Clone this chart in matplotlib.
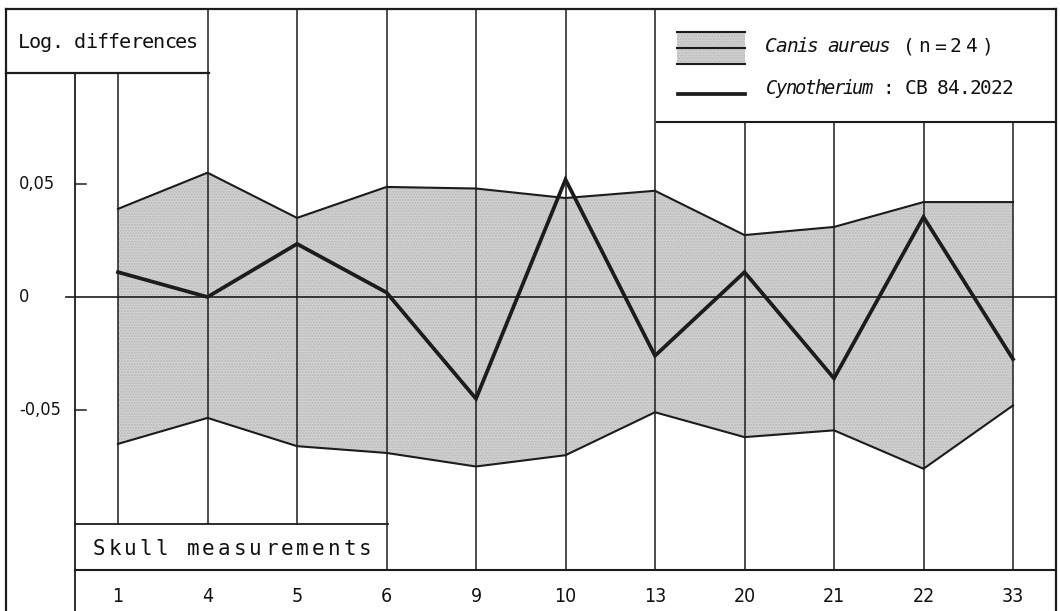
import matplotlib
matplotlib.use("Agg")
import matplotlib.pyplot as plt
from matplotlib.transforms import blended_transform_factory
from matplotlib.patches import Rectangle

# ---------------- data ----------------
categories = ['1', '4', '5', '6', '9', '10', '13', '20', '21', '22', '33']
canis_upper = [0.039, 0.055, 0.035, 0.0487, 0.048, 0.0438, 0.047, 0.0274, 0.031, 0.042, 0.042]
canis_lower = [-0.065, -0.0535, -0.066, -0.069, -0.075, -0.070, -0.051, -0.062, -0.059, -0.076, -0.048]
cynotherium = [0.011, 0.0, 0.0235, 0.002, -0.045, 0.052, -0.026, 0.011, -0.036, 0.0354, -0.0275]
ytick_values = [0.05, 0.0, -0.05]
ytick_labels = ['0,05', '0', '-0,05']

# ---------------- style ----------------
W, H = 1060, 611
INK = '#1c1c1c'
TXT = '#111111'
FILL = '#d2d2d2'
FONT = 'DejaVu Sans'
MONO = 'DejaVu Sans Mono'

fig = plt.figure(figsize=(W / 100, H / 100), dpi=100)
fig.patch.set_facecolor('white')

# pixel-unit helper axes (y downwards) used only for layout
deco = fig.add_axes([0, 0, 1, 1])
deco.set_xlim(0, W)
deco.set_ylim(H, 0)
deco.axis('off')

# data axes
ax = fig.add_axes([0, 0, 1, 1])
x0_px, dx_px = 118.0, 89.5          # pixel position of first category, spacing
y0_px, dy_px = 297.0, 113.0 / 0.05  # pixel position of zero, px per unit
ax.set_xlim((0 - x0_px) / dx_px, (W - x0_px) / dx_px)
ax.set_ylim((y0_px - H) / dy_px, y0_px / dy_px)
ax.axis('off')
ax.patch.set_alpha(0)

xs = list(range(len(categories)))
x_data_y_px = blended_transform_factory(ax.transData, deco.transData)
x_px_y_data = blended_transform_factory(deco.transData, ax.transData)

# band of Canis aureus
band = ax.fill_between(xs, canis_lower, canis_upper, facecolor=FILL,
                       hatch='......', zorder=1)
band.set_edgecolor('#b8b8b8')
band.set_linewidth(0)
ax.plot(xs, canis_upper, color=INK, lw=1.5, zorder=3, solid_joinstyle='miter')
ax.plot(xs, canis_lower, color=INK, lw=1.5, zorder=3, solid_joinstyle='miter')

# column lines (tops/bottoms in px, depend on the boxes)
col_top = [73, 9, 9, 9, 9, 9, 9, 122, 122, 122, 122]
col_bot = [524, 524, 524, 570, 570, 570, 570, 570, 570, 570, 570]
for x, t, b in zip(xs, col_top, col_bot):
    ax.plot([x, x], [t, b], color=INK, lw=1.1, transform=x_data_y_px, zorder=2)

# zero line and ticks
ax.plot([66, 1056], [0, 0], color=INK, lw=1.2, transform=x_px_y_data, zorder=2)
for v in ytick_values:
    if v != 0:
        ax.plot([75, 86], [v, v], color=INK, lw=1.1, transform=x_px_y_data, zorder=2)
for v, lab in zip(ytick_values, ytick_labels):
    ax.text(19, v, lab, transform=x_px_y_data, ha='left', va='center',
            fontsize=13, family=FONT, fontstretch='condensed', color=TXT)

# Cynotherium line
ax.plot(xs, cynotherium, color=INK, lw=2.7, zorder=4, solid_joinstyle='miter')

# frame and boxes (layout, pixel units)
frame = dict(color=INK, lw=1.6, zorder=5)
deco.plot([6, 1056], [9, 9], **frame)
deco.plot([6, 6], [9, 611], **frame)
deco.plot([1056, 1056], [9, 611], **frame)
deco.plot([6, 209], [73, 73], **frame)
deco.plot([75, 75], [73, 611], color=INK, lw=1.3)
deco.plot([75, 388], [524, 524], color=INK, lw=1.3)
deco.plot([75, 1056], [570, 570], color=INK, lw=1.5)
deco.plot([657, 1056], [122, 122], color=INK, lw=1.5)


def spaced(axis, text, left, right, y, size, style='normal', family=MONO, **kw):
    pitch = (right - left) / len(text)
    for k, ch in enumerate(text):
        if ch != ' ':
            axis.text(left + pitch * (k + 0.5), y, ch, ha='center', va='center',
                      fontsize=size, family=family, style=style, color=TXT, **kw)


spaced(deco, 'Log. differences', 18, 198, 43, 14.5)
spaced(deco, 'Skull measurements', 91, 373, 549, 15)

# category labels
for x, lab in zip(xs, categories):
    ax.text(x, 596, lab, transform=x_data_y_px, ha='center', va='center',
            fontsize=14, family=FONT, fontstretch='condensed', color=TXT)

# legend
swatch = Rectangle((677, 32), 68, 32, facecolor=FILL, hatch='......', lw=0)
swatch.set_edgecolor('#b8b8b8')
deco.add_patch(swatch)
for yy in (32, 48, 64):
    deco.plot([677, 745], [yy, yy], color=INK, lw=1.5)
deco.plot([678, 745], [94, 94], color=INK, lw=2.7)
spaced(deco, 'Canis aureus', 766, 890, 47, 14, style='italic')
spaced(deco, '(n=24)', 901, 995, 47, 14)
spaced(deco, 'Cynotherium', 767, 872, 89, 13.5, style='italic')
deco.text(888, 89, ':', ha='center', va='center', fontsize=14, family=MONO,
          color=TXT)
spaced(deco, 'CB 84.2022', 905, 1013, 89, 14)

fig.savefig('out.png', dpi=100, facecolor='white')
